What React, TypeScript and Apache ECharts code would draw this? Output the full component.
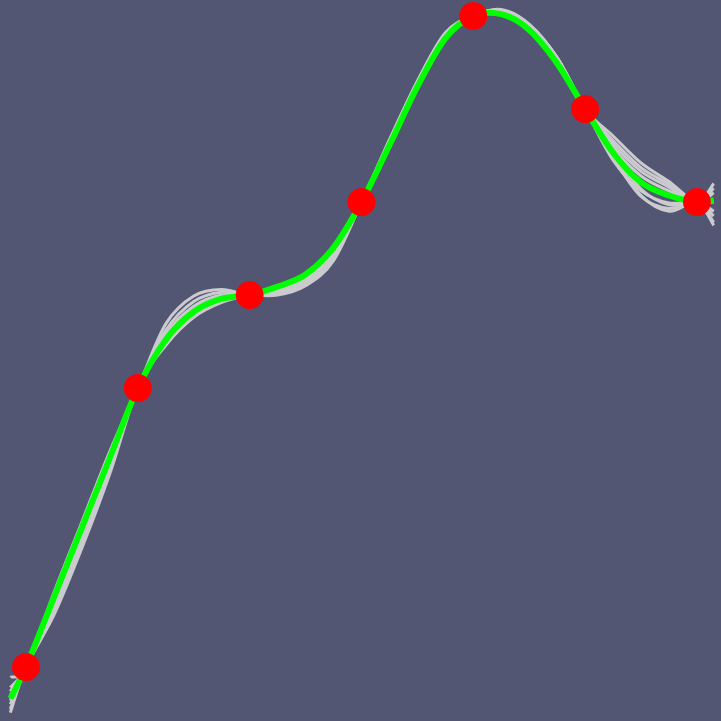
import React, { useEffect, useRef } from "react";
import * as echarts from "echarts";

// Sample positions along x shared by every curve
const xs = [-0.14, 0, 0.25, 0.5, 0.75, 1, 1.25, 1.5, 1.75, 2, 2.25, 2.5, 2.75, 3, 3.25, 3.5, 3.75, 4, 4.25, 4.5, 4.75, 5, 5.25, 5.5, 5.75, 6, 6.15];

// Observed points
const pointX = [0, 1, 2, 3, 4, 5, 6];
const pointY = [0, 3, 4, 5, 7, 6, 5];

// Mean curve (green)
const meanCurve = [-0.34, 0, 0.75, 1.5, 2.25, 3, 3.52, 3.82, 3.96, 4, 4.09, 4.22, 4.51, 5, 5.61, 6.24, 6.76, 7, 7.02, 6.85, 6.49, 6, 5.53, 5.21, 5.07, 5, 5.02];

// Sampled curves (grey)
const sampleA = [-0.49, 0, 0.56, 1.28, 2.08, 3, 3.5, 3.78, 3.93, 4, 4.02, 4.12, 4.39, 5, 5.62, 6.26, 6.8, 7, 7.05, 6.9, 6.53, 6, 5.48, 5.06, 4.93, 5, 4.75];
const sampleB = [-0.11, 0, 0.8, 1.56, 2.32, 3, 3.69, 3.99, 4.06, 4, 4.05, 4.16, 4.45, 5, 5.67, 6.3, 6.82, 7, 7.07, 6.91, 6.55, 6, 5.71, 5.42, 5.22, 5, 5.2];
const sampleC = [-0.22, 0, 0.72, 1.45, 2.22, 3, 3.62, 3.93, 4.03, 4, 4.06, 4.19, 4.47, 5, 5.64, 6.28, 6.79, 7, 7.05, 6.88, 6.53, 6, 5.62, 5.33, 5.16, 5, 5.1];
const sampleD = [-0.4, 0, 0.66, 1.38, 2.16, 3, 3.49, 3.79, 3.95, 4, 4.04, 4.14, 4.41, 5, 5.63, 6.27, 6.79, 7, 7.06, 6.9, 6.55, 6, 5.5, 5.07, 4.9, 5, 4.78];
const sampleE = [-0.3, 0, 0.73, 1.48, 2.24, 3, 3.55, 3.85, 3.98, 4, 4.07, 4.18, 4.46, 5, 5.65, 6.29, 6.8, 7, 7.06, 6.9, 6.54, 6, 5.58, 5.28, 5.12, 5, 5.0];
const sampleF = [-0.36, 0, 0.62, 1.34, 2.14, 3, 3.46, 3.76, 3.92, 4, 4.03, 4.13, 4.4, 5, 5.64, 6.27, 6.8, 7, 7.06, 6.91, 6.55, 6, 5.53, 5.14, 4.97, 5, 4.9];
const sampleG = [-0.26, 0, 0.7, 1.44, 2.2, 3, 3.58, 3.88, 4.0, 4, 4.0, 4.1, 4.37, 5, 5.66, 6.29, 6.81, 7, 7.06, 6.9, 6.55, 6, 5.66, 5.37, 5.19, 5, 5.15];
const sampleH = [-0.45, 0, 0.6, 1.32, 2.12, 3, 3.52, 3.8, 3.94, 4, 4.03, 4.13, 4.4, 5, 5.63, 6.27, 6.8, 7, 7.05, 6.9, 6.54, 6, 5.45, 5.12, 4.99, 5, 4.85];

const samples = [sampleA, sampleB, sampleC, sampleD, sampleE, sampleF, sampleG, sampleH];

// Build a Catmull-Rom spline (as cubic Béziers) through pixel points
function splinePath(pts: number[][]): string {
  let d = `M${pts[0][0]},${pts[0][1]}`;
  for (let i = 0; i < pts.length - 1; i++) {
    const p0 = pts[Math.max(0, i - 1)];
    const p1 = pts[i];
    const p2 = pts[i + 1];
    const p3 = pts[Math.min(pts.length - 1, i + 2)];
    const c1x = p1[0] + (p2[0] - p0[0]) / 6;
    const c1y = p1[1] + (p2[1] - p0[1]) / 6;
    const c2x = p2[0] - (p3[0] - p1[0]) / 6;
    const c2y = p2[1] - (p3[1] - p1[1]) / 6;
    d += ` C${c1x},${c1y} ${c2x},${c2y} ${p2[0]},${p2[1]}`;
  }
  return d;
}

function curveSeries(curves: number[][], color: string, width: number, z: number) {
  return {
    type: "custom",
    z,
    silent: true,
    clip: true,
    data: curves.map((_, i) => [i]),
    renderItem: (params: any, api: any) => {
      const ys = curves[params.dataIndex];
      const pts = xs.map((x, k) => api.coord([x, ys[k]]));
      return {
        type: "path",
        shape: { pathData: splinePath(pts) },
        style: { fill: "none", stroke: color, lineWidth: width },
      };
    },
  };
}

export default function App() {
  const ref = useRef<HTMLDivElement>(null);

  useEffect(() => {
    document.body.style.margin = "0";
    if (!ref.current) return;
    const chart = echarts.init(ref.current, null, { renderer: "svg" });

    chart.setOption({
      animation: false,
      backgroundColor: "#525673",
      grid: { left: 0, right: 0, top: 0, bottom: 0 },
      xAxis: { type: "value", min: -0.2325, max: 6.215, show: false },
      yAxis: { type: "value", min: -0.58, max: 7.172, show: false },
      series: [
        curveSeries(samples, "#cbcbcf", 3, 1),
        curveSeries([meanCurve], "#00ff00", 6, 2),
        {
          type: "scatter",
          data: pointX.map((x, i) => [x, pointY[i]]),
          symbol: "circle",
          symbolSize: 28,
          z: 3,
          itemStyle: { color: "#ff0000", opacity: 1 },
          silent: true,
        },
      ],
    });

    return () => chart.dispose();
  }, []);

  return <div ref={ref} style={{ width: 721, height: 721 }} />;
}
